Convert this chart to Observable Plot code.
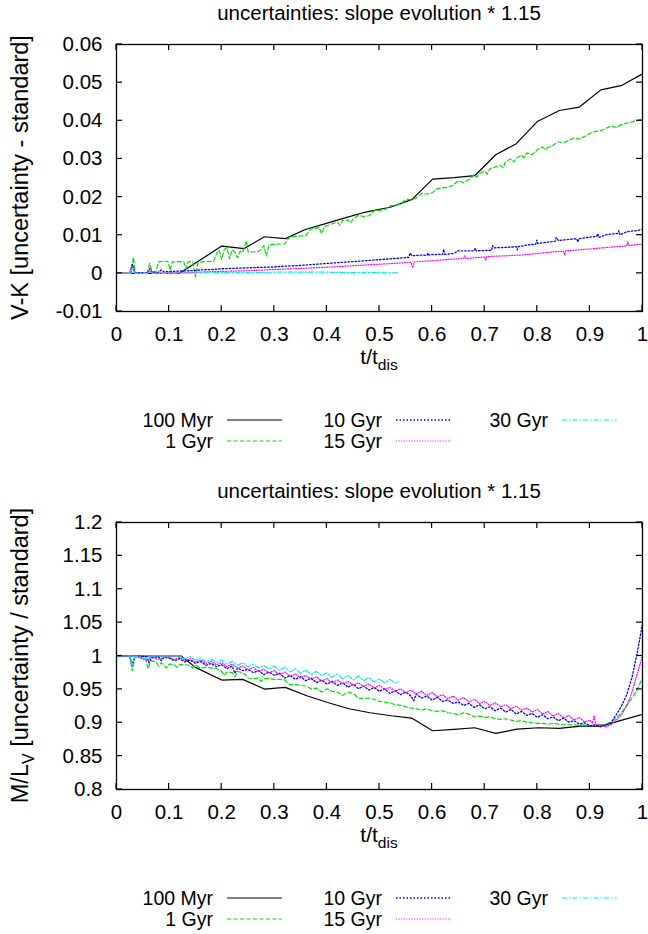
<!DOCTYPE html>
<html><head><meta charset="utf-8">
<script src="https://cdn.jsdelivr.net/npm/d3@7"></script>
<script src="https://cdn.jsdelivr.net/npm/@observablehq/plot@0.6"></script>
<style>
body{margin:0;background:#fff;}
#wrap{width:648px;}
#wrap svg{display:block;}
</style></head><body><div id="wrap"></div>
<script>
const FONT = "'Liberation Sans', Arial, Helvetica, sans-serif";
const titleText = "uncertainties: slope evolution * 1.15";
const seriesNames = ["100 Myr", "1 Gyr", "10 Gyr", "15 Gyr", "30 Gyr"];
const seriesColors = ["#000000", "#00e000", "#0000ff", "#ff00ff", "#00eeee"];
const seriesDash = [null, "4,2.5", "1.5,2", "1,1.6", "5,2,1.5,2"];
const seriesWidth = [1.2, 1.2, 1.3, 1.2, 1.2];

const xTicks = [0, 0.1, 0.2, 0.3, 0.4, 0.5, 0.6, 0.7, 0.8, 0.9, 1];
const vkTicks = [-0.01, 0, 0.01, 0.02, 0.03, 0.04, 0.05, 0.06];
const mlTicks = [0.8, 0.85, 0.9, 0.95, 1, 1.05, 1.1, 1.15, 1.2];

// ---- top panel: V-K [uncertainty - standard] ----
const vk_100Myr = [[0,0],[0.12,0],[0.2,0.00715],[0.243,0.0065],[0.281,0.0096],[0.321,0.0091],[0.359,0.0115],[0.399,0.0131],[0.436,0.0146],[0.469,0.0159],[0.522,0.0174],[0.562,0.0194],[0.601,0.0247],[0.642,0.0251],[0.681,0.0256],[0.721,0.0311],[0.76,0.034],[0.8,0.0398],[0.842,0.0427],[0.88,0.0436],[0.921,0.0481],[0.961,0.0493],[1,0.0523]];
const vk_1Gyr = [[0,0],[0.028,0],[0.032,0.0042],[0.036,0],[0.058,0],[0.063,0.0026],[0.068,0.0004],[0.075,0.0005],[0.08,0.003],[0.09,0.0032],[0.098,0.0031],[0.102,0.0008],[0.106,0.003],[0.12,0.0031],[0.128,0.003],[0.132,0.0012],[0.136,0.003],[0.145,0.0031],[0.15,-0.0009],[0.155,0.0029],[0.17,0.0031],[0.185,0.0032],[0.19,0.0051],[0.195,0.0062],[0.2,0.0036],[0.205,0.0063],[0.21,0.0067],[0.215,0.0038],[0.22,0.0062],[0.225,0.0056],[0.23,0.0041],[0.235,0.0058],[0.24,0.0055],[0.247,0.0086],[0.25,0.0057],[0.26,0.0056],[0.27,0.0057],[0.275,0.0062],[0.28,0.0073],[0.285,0.0046],[0.29,0.0075],[0.3,0.0076],[0.31,0.0077],[0.32,0.0077],[0.325,0.0088],[0.33,0.0096],[0.34,0.0097],[0.35,0.0098],[0.36,0.0099],[0.365,0.0108],[0.37,0.0117],[0.38,0.0118],[0.385,0.0121],[0.39,0.0104],[0.395,0.0122],[0.41,0.013],[0.42,0.0134],[0.425,0.0126],[0.43,0.0139],[0.44,0.014],[0.445,0.0132],[0.45,0.0143],[0.46,0.0152],[0.47,0.0149],[0.48,0.0151],[0.49,0.0164],[0.5,0.0165],[0.51,0.0167],[0.52,0.0178],[0.53,0.0177],[0.54,0.0182],[0.55,0.0194],[0.56,0.0193],[0.57,0.0198],[0.58,0.0209],[0.59,0.0208],[0.6,0.0211],[0.61,0.0222],[0.62,0.0224],[0.63,0.0226],[0.64,0.0231],[0.65,0.0243],[0.66,0.0238],[0.67,0.0246],[0.68,0.0259],[0.685,0.0252],[0.69,0.0262],[0.7,0.0268],[0.705,0.026],[0.71,0.0275],[0.72,0.0279],[0.73,0.0283],[0.735,0.0277],[0.74,0.0294],[0.75,0.03],[0.755,0.0292],[0.76,0.0302],[0.77,0.031],[0.775,0.0303],[0.78,0.0316],[0.79,0.0311],[0.8,0.0324],[0.81,0.0331],[0.815,0.0325],[0.82,0.033],[0.83,0.0336],[0.84,0.0345],[0.85,0.0342],[0.86,0.0349],[0.87,0.0355],[0.88,0.0352],[0.89,0.0359],[0.9,0.0367],[0.91,0.0372],[0.92,0.0374],[0.93,0.038],[0.94,0.0386],[0.95,0.0383],[0.96,0.039],[0.97,0.0394],[0.98,0.0397],[0.99,0.0401],[1,0.0405]];
const vk_10Gyr = [[0,0],[0.025,0],[0.03,0.0024],[0.035,0.0002],[0.06,0.0001],[0.063,0.0013],[0.068,0.0002],[0.08,0.0003],[0.085,0.0009],[0.09,0.0004],[0.1,0.0005],[0.12,0.0006],[0.14,0.0007],[0.16,0.0009],[0.18,0.001],[0.2,0.0012],[0.22,0.0013],[0.24,0.0014],[0.26,0.0015],[0.28,0.0016],[0.3,0.0017],[0.32,0.0019],[0.34,0.002],[0.36,0.0022],[0.38,0.0024],[0.4,0.0026],[0.42,0.0028],[0.44,0.003],[0.46,0.0032],[0.48,0.0034],[0.5,0.0036],[0.52,0.0038],[0.54,0.004],[0.556,0.0042],[0.558,0.0053],[0.562,0.0046],[0.58,0.0048],[0.59,0.0047],[0.592,0.0053],[0.594,0.0048],[0.6,0.0049],[0.62,0.005],[0.622,0.0063],[0.624,0.005],[0.64,0.0052],[0.645,0.0055],[0.648,0.0059],[0.66,0.0059],[0.68,0.0059],[0.682,0.0066],[0.684,0.0059],[0.7,0.006],[0.713,0.006],[0.715,0.0073],[0.718,0.0067],[0.74,0.0068],[0.76,0.007],[0.762,0.0062],[0.764,0.007],[0.78,0.0074],[0.797,0.0077],[0.799,0.0087],[0.801,0.0078],[0.82,0.0082],[0.834,0.0084],[0.836,0.0094],[0.84,0.0086],[0.86,0.0089],[0.875,0.0091],[0.877,0.0082],[0.879,0.0091],[0.9,0.0095],[0.913,0.0097],[0.915,0.0104],[0.917,0.0094],[0.93,0.0101],[0.953,0.0105],[0.955,0.0112],[0.957,0.0101],[0.97,0.0109],[0.98,0.0111],[0.99,0.0112],[1,0.0116]];
const vk_15Gyr = [[0,0],[0.025,0],[0.03,0.0018],[0.035,0],[0.06,0],[0.063,0.0009],[0.068,0],[0.1,0.0001],[0.14,0.0002],[0.17,0.0004],[0.2,0.0005],[0.25,0.0007],[0.3,0.001],[0.35,0.0013],[0.4,0.0016],[0.45,0.002],[0.5,0.0024],[0.55,0.0028],[0.56,0.0029],[0.563,0.0015],[0.566,0.003],[0.6,0.0033],[0.635,0.0037],[0.66,0.0039],[0.662,0.0046],[0.664,0.0039],[0.7,0.0043],[0.702,0.0034],[0.704,0.0044],[0.74,0.0046],[0.768,0.0048],[0.8,0.0052],[0.835,0.0057],[0.85,0.0058],[0.852,0.0048],[0.854,0.0059],[0.9,0.0064],[0.95,0.007],[0.97,0.0072],[0.972,0.0083],[0.974,0.0073],[1,0.0077]];
const vk_30Gyr = [[0,0],[0.025,0],[0.03,0.0012],[0.035,0],[0.06,0],[0.063,0.0006],[0.068,0],[0.1,0],[0.15,0.0001],[0.2,0.0002],[0.25,0.0002],[0.3,0.0003],[0.35,0.0003],[0.4,0.0003],[0.45,0.0002],[0.5,0.0002],[0.535,0.0001]];

// ---- bottom panel: M/L_V [uncertainty / standard] ----
const ml_100Myr = [[0,1],[0.123,1],[0.15,0.983],[0.2,0.964],[0.24,0.965],[0.281,0.9505],[0.321,0.953],[0.363,0.94],[0.403,0.93],[0.442,0.921],[0.482,0.915],[0.522,0.9105],[0.561,0.907],[0.601,0.888],[0.642,0.89],[0.681,0.8925],[0.721,0.884],[0.762,0.8905],[0.802,0.8925],[0.842,0.8915],[0.882,0.895],[0.921,0.895],[0.961,0.904],[1,0.9125]];
const ml_1Gyr = [[0,1],[0.025,1],[0.03,0.978],[0.035,0.998],[0.055,0.997],[0.06,0.981],[0.065,0.993],[0.075,0.991],[0.08,0.985],[0.085,0.99],[0.09,0.987],[0.095,0.982],[0.1,0.988],[0.11,0.987],[0.115,0.983],[0.12,0.987],[0.13,0.987],[0.14,0.986],[0.145,0.982],[0.15,0.986],[0.16,0.982],[0.17,0.983],[0.18,0.982],[0.19,0.981],[0.2,0.977],[0.205,0.971],[0.21,0.976],[0.22,0.975],[0.225,0.969],[0.23,0.977],[0.24,0.975],[0.245,0.972],[0.25,0.967],[0.26,0.966],[0.27,0.967],[0.275,0.962],[0.28,0.966],[0.29,0.966],[0.3,0.965],[0.31,0.965],[0.32,0.964],[0.325,0.96],[0.33,0.957],[0.34,0.957],[0.35,0.956],[0.36,0.955],[0.37,0.951],[0.38,0.952],[0.39,0.946],[0.4,0.951],[0.41,0.947],[0.42,0.946],[0.43,0.941],[0.44,0.946],[0.45,0.944],[0.46,0.937],[0.47,0.936],[0.48,0.937],[0.49,0.935],[0.5,0.932],[0.51,0.931],[0.52,0.93],[0.53,0.927],[0.54,0.926],[0.55,0.924],[0.56,0.922],[0.57,0.921],[0.58,0.919],[0.59,0.921],[0.6,0.918],[0.61,0.917],[0.62,0.918],[0.63,0.915],[0.64,0.914],[0.65,0.912],[0.66,0.915],[0.67,0.913],[0.68,0.909],[0.69,0.91],[0.7,0.908],[0.71,0.909],[0.72,0.906],[0.73,0.905],[0.74,0.906],[0.75,0.904],[0.76,0.902],[0.77,0.903],[0.78,0.901],[0.79,0.9],[0.8,0.899],[0.81,0.899],[0.82,0.898],[0.83,0.899],[0.84,0.898],[0.85,0.897],[0.86,0.897],[0.87,0.897],[0.88,0.896],[0.89,0.897],[0.9,0.896],[0.91,0.896],[0.92,0.897],[0.93,0.898],[0.94,0.901],[0.95,0.907],[0.96,0.915],[0.97,0.926],[0.98,0.937],[0.99,0.95],[1,0.967]];
const ml_10Gyr = [[0,1],[0.025,1],[0.03,0.984],[0.035,1],[0.058,0.999],[0.062,0.99],[0.066,0.997],[0.08,0.999],[0.085,0.993],[0.09,0.998],[0.1,0.997],[0.11,0.993],[0.12,0.996],[0.13,0.991],[0.14,0.994],[0.15,0.989],[0.16,0.992],[0.17,0.986],[0.18,0.989],[0.19,0.984],[0.2,0.987],[0.21,0.981],[0.22,0.985],[0.225,0.974],[0.23,0.982],[0.24,0.978],[0.25,0.98],[0.26,0.975],[0.27,0.978],[0.28,0.972],[0.29,0.976],[0.3,0.971],[0.31,0.974],[0.32,0.967],[0.33,0.971],[0.34,0.965],[0.35,0.969],[0.36,0.963],[0.37,0.967],[0.38,0.96],[0.39,0.964],[0.4,0.958],[0.41,0.962],[0.42,0.956],[0.43,0.96],[0.44,0.953],[0.45,0.958],[0.46,0.951],[0.47,0.955],[0.48,0.949],[0.49,0.953],[0.5,0.947],[0.51,0.951],[0.52,0.944],[0.53,0.948],[0.54,0.942],[0.55,0.946],[0.56,0.94],[0.565,0.933],[0.57,0.943],[0.58,0.937],[0.59,0.94],[0.6,0.934],[0.61,0.938],[0.62,0.932],[0.63,0.934],[0.64,0.929],[0.65,0.931],[0.66,0.926],[0.67,0.929],[0.68,0.923],[0.69,0.927],[0.7,0.921],[0.71,0.924],[0.72,0.918],[0.73,0.922],[0.74,0.916],[0.75,0.92],[0.76,0.913],[0.77,0.917],[0.78,0.911],[0.79,0.914],[0.8,0.908],[0.81,0.912],[0.82,0.906],[0.83,0.909],[0.84,0.903],[0.85,0.907],[0.86,0.901],[0.87,0.903],[0.88,0.898],[0.89,0.9],[0.9,0.895],[0.91,0.897],[0.92,0.894],[0.93,0.896],[0.94,0.9],[0.95,0.912],[0.96,0.925],[0.97,0.942],[0.98,0.968],[0.99,1.005],[1,1.048]];
const ml_15Gyr = [[0,1],[0.025,1],[0.03,0.99],[0.035,1],[0.06,0.993],[0.065,0.999],[0.08,0.995],[0.09,0.998],[0.1,0.998],[0.11,0.995],[0.12,0.998],[0.13,0.993],[0.14,0.996],[0.15,0.991],[0.16,0.994],[0.17,0.989],[0.18,0.992],[0.19,0.987],[0.2,0.99],[0.21,0.984],[0.22,0.988],[0.23,0.982],[0.24,0.985],[0.25,0.979],[0.26,0.983],[0.27,0.977],[0.28,0.98],[0.29,0.975],[0.3,0.978],[0.31,0.972],[0.32,0.976],[0.33,0.97],[0.34,0.973],[0.35,0.967],[0.36,0.971],[0.37,0.965],[0.38,0.969],[0.39,0.963],[0.4,0.966],[0.41,0.96],[0.42,0.964],[0.43,0.958],[0.44,0.962],[0.45,0.956],[0.46,0.96],[0.47,0.954],[0.48,0.958],[0.49,0.952],[0.5,0.956],[0.51,0.95],[0.52,0.953],[0.53,0.947],[0.54,0.951],[0.55,0.945],[0.56,0.949],[0.57,0.943],[0.58,0.947],[0.59,0.941],[0.6,0.945],[0.61,0.939],[0.62,0.942],[0.63,0.936],[0.64,0.94],[0.65,0.934],[0.66,0.938],[0.67,0.931],[0.68,0.935],[0.69,0.929],[0.7,0.932],[0.71,0.926],[0.72,0.93],[0.73,0.924],[0.74,0.927],[0.75,0.921],[0.76,0.925],[0.77,0.919],[0.78,0.922],[0.79,0.916],[0.8,0.92],[0.81,0.913],[0.82,0.917],[0.83,0.91],[0.84,0.914],[0.85,0.907],[0.86,0.911],[0.87,0.904],[0.88,0.908],[0.89,0.901],[0.9,0.904],[0.905,0.899],[0.908,0.911],[0.911,0.898],[0.92,0.897],[0.93,0.894],[0.94,0.897],[0.95,0.904],[0.96,0.912],[0.97,0.925],[0.98,0.946],[0.99,0.973],[1,1.0]];
const ml_30Gyr = [[0,1],[0.025,1],[0.03,0.985],[0.035,1],[0.06,0.996],[0.065,1],[0.12,1],[0.13,0.996],[0.14,0.999],[0.15,0.994],[0.16,0.997],[0.17,0.991],[0.18,0.995],[0.19,0.99],[0.2,0.994],[0.21,0.988],[0.22,0.992],[0.23,0.986],[0.24,0.99],[0.25,0.984],[0.26,0.988],[0.27,0.982],[0.28,0.986],[0.29,0.98],[0.3,0.985],[0.31,0.978],[0.32,0.983],[0.33,0.976],[0.34,0.981],[0.35,0.974],[0.36,0.979],[0.37,0.972],[0.38,0.977],[0.39,0.97],[0.4,0.975],[0.41,0.968],[0.42,0.973],[0.43,0.966],[0.44,0.971],[0.45,0.964],[0.46,0.97],[0.47,0.963],[0.48,0.968],[0.49,0.961],[0.5,0.966],[0.51,0.96],[0.52,0.965],[0.53,0.959],[0.536,0.962]];

const fmt = v => String(+v.toFixed(2));

function panel({series, yDomain, yTicks, marginTop, marginBottom, ylabel}) {
  const H = 467, W = 648, ML = 116, MR = 6, FS = 20.5, LFS = 23.5, LEGFS = 19.5;
  const chart = Plot.plot({
    width: W, height: H, marginTop, marginBottom, marginLeft: ML, marginRight: MR,
    x: {domain: [0, 1]},
    y: {domain: yDomain},
    style: {fontFamily: FONT, fontSize: FS + "px", color: "#000", background: "#fff", overflow: "visible"},
    marks: [
      ...series.map((s, i) => Plot.line(s, {x: d => d[0], y: d => d[1], stroke: seriesColors[i], strokeWidth: seriesWidth[i], strokeDasharray: seriesDash[i]})),
      Plot.frame({stroke: "#000", strokeWidth: 1.3}),
      Plot.axisX({ticks: xTicks, anchor: "bottom", tickSize: 0, tickPadding: 15, tickFormat: fmt, fontSize: FS, label: null}),
      Plot.axisY({ticks: yTicks, anchor: "left", tickSize: 0, tickPadding: 14, tickFormat: fmt, fontSize: FS, label: null})
    ]
  });
  const svg = d3.select(chart);
  const sx = chart.scale("x").apply, sy = chart.scale("y").apply;
  const x0 = sx(0), x1 = sx(1), y0 = sy(yDomain[0]), y1 = sy(yDomain[1]);
  const g = svg.append("g").attr("stroke", "#000").attr("stroke-width", 1.2);
  const TL = 6;
  xTicks.forEach(t => {
    g.append("line").attr("x1", sx(t)).attr("x2", sx(t)).attr("y1", y0).attr("y2", y0 - TL);
    g.append("line").attr("x1", sx(t)).attr("x2", sx(t)).attr("y1", y1).attr("y2", y1 + TL);
  });
  yTicks.forEach(v => {
    g.append("line").attr("y1", sy(v)).attr("y2", sy(v)).attr("x1", x0).attr("x2", x0 + TL);
    g.append("line").attr("y1", sy(v)).attr("y2", sy(v)).attr("x1", x1).attr("x2", x1 - TL);
  });
  const cx = (x0 + x1) / 2;
  const txt = svg.append("g").attr("font-family", FONT).attr("font-size", FS).attr("fill", "#000");
  txt.append("text").attr("x", cx).attr("y", y1 - 24).attr("text-anchor", "middle").text(titleText);
  const xl = txt.append("text").attr("x", cx).attr("y", y0 + 53).attr("text-anchor", "middle").attr("font-size", 21);
  xl.append("tspan").text("t/t");
  xl.append("tspan").attr("dy", 6).attr("font-size", 15.5).text("dis");
  const yl = txt.append("text").attr("text-anchor", "middle").attr("font-size", LFS)
    .attr("transform", `translate(28,${(y0 + y1) / 2}) rotate(-90)`);
  ylabel(yl);
  // legend
  const legendPos = [[213, 0], [213, 1], [382, 0], [382, 1], [548, 0]];
  seriesNames.forEach((name, i) => {
    const [tx, row] = legendPos[i];
    const by = y0 + 115.5 + row * 21;
    txt.append("text").attr("x", tx).attr("y", by).attr("text-anchor", "end").attr("font-size", LEGFS).text(name);
    svg.append("line").attr("x1", tx + 14).attr("x2", tx + 69).attr("y1", by - 6.5).attr("y2", by - 6.5)
      .attr("stroke", seriesColors[i]).attr("stroke-width", seriesWidth[i])
      .attr("stroke-dasharray", seriesDash[i]);
  });
  return chart;
}

const wrap = document.getElementById("wrap");
wrap.appendChild(panel({
  series: [vk_100Myr, vk_1Gyr, vk_10Gyr, vk_15Gyr, vk_30Gyr],
  yDomain: [-0.01, 0.06], yTicks: vkTicks, marginTop: 44, marginBottom: 156,
  ylabel: t => t.text("V-K [uncertainty - standard]")
}));
wrap.appendChild(panel({
  series: [ml_100Myr, ml_1Gyr, ml_10Gyr, ml_15Gyr, ml_30Gyr],
  yDomain: [0.8, 1.2], yTicks: mlTicks, marginTop: 55, marginBottom: 145,
  ylabel: t => {
    t.append("tspan").text("M/L");
    t.append("tspan").attr("dy", 6).attr("font-size", 16).text("V");
    t.append("tspan").attr("dy", -6).text(" [uncertainty / standard]");
  }
}));
</script></body></html>
